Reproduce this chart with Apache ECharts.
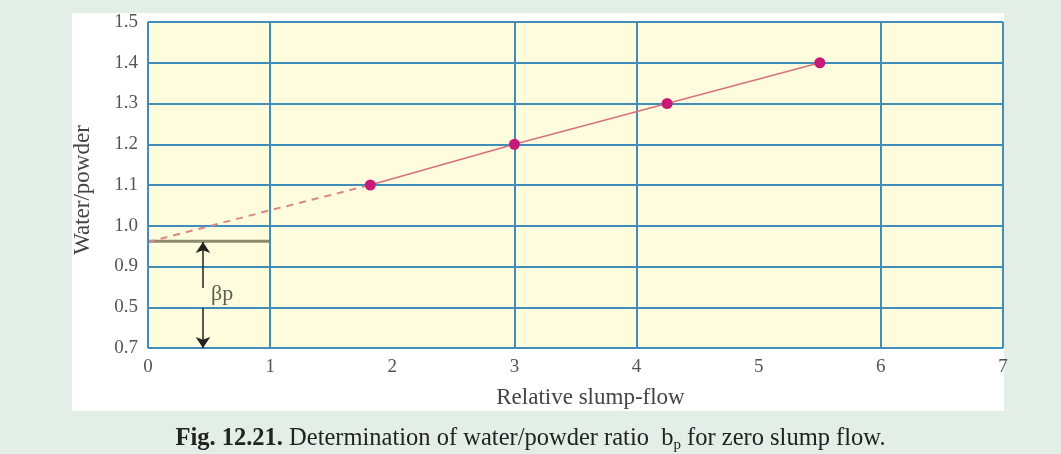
<!DOCTYPE html>
<html>
<head>
<meta charset="utf-8">
<script src="https://cdn.jsdelivr.net/npm/echarts@6/dist/echarts.min.js"></script>
<style>
  html, body { margin: 0; padding: 0; background: #e3efe6; }
  #chart { width: 1061px; height: 454px; }
</style>
</head>
<body>
<div id="chart"></div>
<script>
// y axis rows, bottom to top (the figure labels them unevenly)
var yLabels = ['0.7', '0.5', '0.9', '1.0', '1.1', '1.2', '1.3', '1.4', '1.5'];
var xTicks = [0, 1, 2, 3, 4, 5, 6, 7];
// the figure only draws some of the vertical rules
var xGridLines = [0, 1, 3, 4, 6, 7];

// measured points: relative slump-flow vs water/powder
var slumpFlow = [1.82, 3.0, 4.25, 5.5];
var waterPowder = [1.1, 1.2, 1.3, 1.4];

// extrapolated (dashed) part down to zero slump flow
var extFlow = [0, 1, 1.82];
var extWater = [0.96, 1.038, 1.1];

// beta_p level
var betaP = 0.962;

// map a water/powder value onto the row scale of the axis (rows >= 0.9 are linear)
function toRow(v) {
  return 2 + (v - 0.9) / 0.1;
}

var font = 'Liberation Serif';
var gridBlue = '#3f8db8';
var chart = echarts.init(document.getElementById('chart'));

var solid = slumpFlow.map(function (x, i) { return [x, toRow(waterPowder[i])]; });
var dashed = extFlow.map(function (x, i) { return [x, toRow(extWater[i])]; });

chart.setOption({
  backgroundColor: '#e3efe6',
  animation: false,
  graphic: [
    { type: 'rect', shape: { x: 72, y: 13, width: 932, height: 398 }, style: { fill: '#ffffff' }, z: -10 },
    {
      type: 'text', left: 'center', top: 426,
      style: {
        text: '{b|Fig. 12.21.} Determination of water/powder ratio  b{s|p} for zero slump flow.',
        font: '24.5px "Liberation Serif"', fill: '#222',
        rich: {
          b: { fontWeight: 'bold', fontSize: 24.5, fontFamily: font, fill: '#222' },
          s: { fontSize: 15, fontFamily: font, padding: [14, 0, 0, 0], fill: '#222' }
        }
      }
    }
  ],
  grid: {
    left: 148, right: 58, top: 22, bottom: 106,
    show: true, backgroundColor: '#fefcdc', borderWidth: 0
  },
  xAxis: {
    type: 'value', min: 0, max: 7, interval: 1,
    name: 'Relative slump-flow', nameLocation: 'middle', nameGap: 38,
    nameTextStyle: { fontFamily: font, fontSize: 23, color: '#444', padding: [0, 0, 0, 30] },
    axisLine: { show: false },
    axisTick: { show: false },
    axisLabel: {
      fontFamily: font, fontSize: 19, color: '#555', margin: 10,
      formatter: function (v) { return xTicks.indexOf(v) >= 0 ? String(v) : ''; }
    },
    splitLine: { show: false }
  },
  yAxis: {
    type: 'value', min: 0, max: 8, interval: 1,
    name: 'Water/powder', nameLocation: 'middle', nameGap: 54, nameRotate: 90,
    nameTextStyle: { fontFamily: font, fontSize: 23, color: '#444', padding: [0, 10, 0, 0] },
    axisLine: { show: false },
    axisTick: { show: false },
    axisLabel: {
      fontFamily: font, fontSize: 19, color: '#555', margin: 10,
      formatter: function (v) { return yLabels[v] || ''; }
    },
    splitLine: { show: true, lineStyle: { color: gridBlue, width: 2 } }
  },
  series: [
    {
      type: 'line', data: [], z: 1, silent: true,
      markLine: {
        silent: true, symbol: 'none', animation: false,
        label: { show: false },
        lineStyle: { color: gridBlue, width: 2, type: 'solid' },
        data: xGridLines.map(function (x) { return { xAxis: x }; })
      }
    },
    {
      type: 'line', data: [[0, toRow(betaP)], [1, toRow(betaP)]],
      symbol: 'none', lineStyle: { color: '#8c8b6c', width: 3 }, z: 3
    },
    {
      type: 'line', data: dashed, symbol: 'none',
      lineStyle: { color: '#d8878a', width: 2, type: [7, 6] }, z: 4
    },
    {
      type: 'line', data: solid, symbol: 'circle', symbolSize: 11,
      itemStyle: { color: '#c81a78' },
      lineStyle: { color: '#d9707e', width: 1.6 }, z: 5
    },
    {
      type: 'lines', coordinateSystem: 'cartesian2d', z: 6,
      symbol: ['none', 'arrow'], symbolSize: 11,
      lineStyle: { color: '#222', width: 1.5, opacity: 1 },
      data: [
        { coords: [[0.45, 1.47], [0.45, 2.6]] },
        { coords: [[0.45, 0.98], [0.45, 0]] }
      ]
    },
    {
      type: 'scatter', symbolSize: 0, z: 6,
      data: [[0.5, 1.33]],
      label: {
        show: true, position: 'right', distance: 2, formatter: 'βp',
        fontFamily: font, fontSize: 22, color: '#333'
      }
    }
  ]
});
</script>
</body>
</html>
